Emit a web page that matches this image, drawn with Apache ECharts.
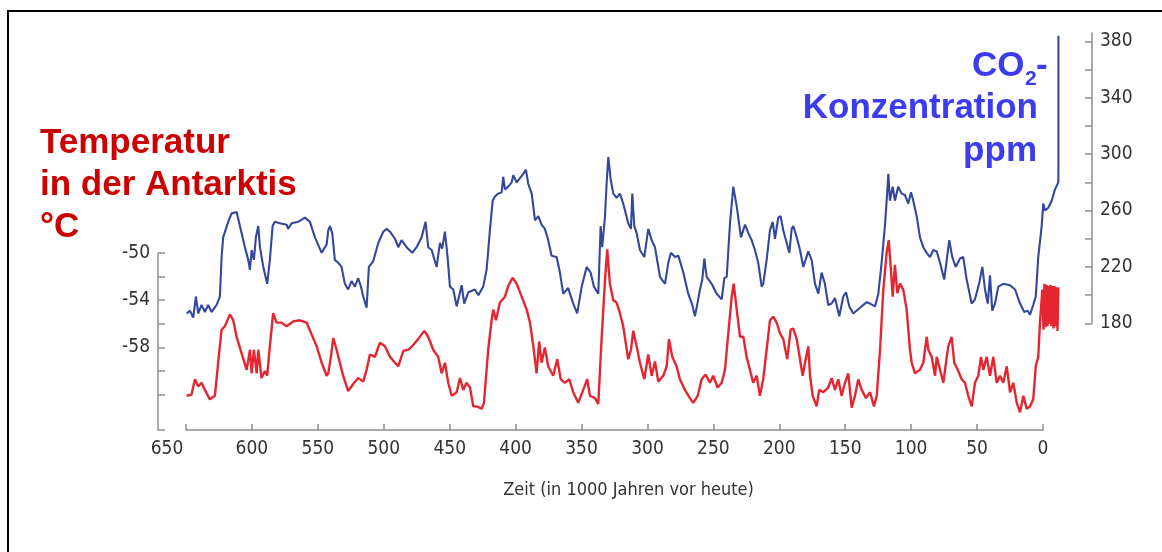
<!DOCTYPE html>
<html>
<head>
<meta charset="utf-8">
<title>Temperatur und CO2-Konzentration in der Antarktis</title>
<style>
  html, body { margin: 0; padding: 0; background: #ffffff; }
  #chart { width: 1162px; height: 552px; }
</style>
<script src="https://cdn.jsdelivr.net/npm/echarts@6/dist/echarts.min.js"></script>
</head>
<body>
<div id="chart"></div>
<script>
// CO2 record: age in thousand years before present, concentration in ppm
const co2Age = [
  649.5, 647.0, 644.5, 642.5, 640.7, 638.2, 635.7, 633.2, 630.6, 626.8,
  624.3, 623.0, 621.8, 618.0, 615.4, 611.6, 609.1, 605.3, 602.8, 601.5,
  600.2, 598.5, 597.0, 595.2, 593.9, 591.4, 588.4, 586.4, 584.3, 582.6,
  578.8, 573.7, 572.5, 569.9, 564.9, 559.8, 556.0, 552.2, 547.1, 543.3,
  542.1, 540.8, 539.1, 537.1, 534.6, 532.0, 529.5, 527.0, 524.4, 521.9,
  519.4, 517.3, 515.6, 513.0, 511.3, 508.0, 504.2, 500.4, 497.8, 495.3,
  491.5, 489.0, 486.5, 482.7, 478.4, 475.1, 471.3, 468.3, 466.3, 463.7,
  459.9, 457.4, 455.7, 453.6, 451.6, 449.8, 447.3, 444.7, 440.9, 439.0,
  435.9, 430.9, 428.3, 424.6, 422.0, 419.5, 417.4, 415.7, 413.2, 410.6,
  409.4, 408.1, 405.6, 403.0, 401.8, 399.2, 396.7, 394.2, 392.2, 390.4,
  387.8, 385.3, 382.8, 380.3, 377.8, 375.3, 372.7, 368.9, 366.4, 363.9,
  360.1, 356.3, 353.3, 349.9, 346.1, 343.1, 340.6, 337.3, 335.5, 334.3,
  332.2, 331.0, 329.7, 327.9, 325.9, 323.4, 320.9, 318.4, 314.6, 312.5,
  311.5, 310.0, 308.2, 305.7, 302.4, 300.6, 299.4, 296.8, 294.3, 290.5,
  286.7, 284.2, 282.2, 279.1, 276.6, 272.8, 269.1, 266.0, 264.0, 261.9,
  260.2, 258.4, 256.9, 255.1, 251.3, 247.5, 243.7, 241.7, 239.9, 237.4,
  234.9, 232.3, 229.1, 226.0, 223.5, 221.0, 218.5, 216.0, 213.4, 212.2,
  209.6, 207.1, 205.0, 203.3, 200.8, 199.0, 197.0, 194.4, 192.4, 190.6,
  189.4, 186.8, 184.3, 181.8, 178.0, 175.5, 172.9, 170.4, 167.9, 165.4,
  162.9, 160.3, 157.8, 154.5, 151.5, 149.4, 146.9, 143.9, 138.8, 133.7,
  131.2, 127.4, 124.9, 122.4, 119.9, 118.6, 117.3, 116.1, 114.0, 112.3,
  109.8, 107.2, 104.7, 102.2, 100.1, 98.4, 95.8, 93.3, 90.8, 88.2,
  85.7, 83.2, 80.6, 78.1, 74.9, 73.0, 71.1, 68.8, 66.2, 63.0,
  60.5, 57.9, 54.1, 51.6, 48.5, 46.0, 44.0, 41.9, 40.2, 38.5,
  36.4, 33.9, 30.1, 25.0, 21.2, 17.4, 14.2, 11.6, 9.9, 7.4,
  5.5, 3.6, 1.0, -0.2, -1.5, -4.0, -6.6, -9.1, -11.6, -11.7,
  -11.7
];
const co2Ppm = [
  187, 189, 184, 199, 187, 193, 188, 193, 188, 193,
  199, 227, 241, 252, 258, 259, 249, 234, 225, 218,
  232, 225, 241, 249, 234, 220, 208, 225, 249, 252,
  251, 250, 247, 251, 252, 255, 252, 241, 230, 236,
  246, 249, 244, 225, 223, 220, 208, 204, 210, 206,
  212, 206, 199, 191, 220, 224, 237, 245, 247, 245,
  240, 234, 239, 234, 230, 234, 241, 252, 234, 232,
  220, 237, 233, 245, 227, 206, 204, 192, 207, 194,
  202, 204, 200, 206, 218, 246, 267, 270, 272, 273,
  284, 275, 277, 280, 285, 280, 283, 286, 289, 279,
  272, 253, 256, 250, 247, 239, 228, 227, 216, 201,
  205, 194, 187, 206, 220, 216, 206, 201, 249, 234,
  256, 279, 298, 282, 272, 269, 272, 265, 251, 247,
  272, 249, 244, 232, 227, 239, 247, 239, 234, 213,
  208, 223, 230, 227, 228, 216, 201, 193, 185, 195,
  204, 211, 226, 213, 208, 201, 197, 212, 213, 251,
  277, 263, 241, 250, 244, 239, 232, 223, 206, 208,
  225, 246, 252, 240, 255, 256, 246, 237, 230, 247,
  249, 241, 232, 220, 231, 225, 208, 201, 216, 208,
  193, 194, 198, 185, 199, 202, 192, 187, 191, 195,
  194, 192, 201, 223, 249, 267, 286, 267, 277, 267,
  277, 272, 271, 265, 273, 267, 256, 241, 234, 230,
  227, 232, 231, 223, 211, 225, 239, 227, 220, 226,
  227, 211, 194, 197, 208, 220, 204, 194, 214, 189,
  194, 206, 208, 207, 204, 194, 188, 189, 186, 193,
  199, 227, 249, 265, 260, 262, 267, 275, 280, 291,
  384
];

// Antarctic temperature record: age in thousand years before present, degrees Celsius
const tempAge = [
  649.5, 645.8, 643.2, 640.7, 638.2, 635.7, 631.9, 628.1, 625.6, 623.0,
  620.5, 616.7, 614.2, 611.6, 607.8, 604.0, 601.5, 600.2, 598.5, 596.4,
  595.2, 592.7, 590.2, 588.4, 586.4, 583.9, 581.3, 577.5, 573.7, 568.7,
  563.6, 558.5, 554.7, 550.9, 547.1, 543.3, 542.1, 540.1, 538.3, 535.8,
  533.3, 530.8, 527.0, 523.2, 519.4, 515.6, 513.0, 510.5, 506.7, 502.9,
  499.1, 495.3, 491.5, 489.0, 485.2, 481.4, 477.7, 473.9, 469.3, 466.3,
  462.5, 458.7, 456.1, 453.6, 451.1, 448.5, 444.7, 442.2, 439.7, 437.2,
  434.6, 432.1, 429.6, 425.8, 424.0, 420.8, 418.2, 417.0, 414.9, 411.9,
  408.1, 405.6, 402.3, 399.2, 395.4, 391.6, 389.1, 386.6, 384.1, 382.1,
  380.3, 377.8, 375.3, 371.5, 368.4, 365.8, 362.6, 359.3, 356.3, 352.5,
  348.7, 345.7, 343.6, 339.8, 337.3, 334.7, 332.2, 330.5, 328.5, 325.9,
  323.4, 320.9, 318.4, 314.6, 312.5, 310.8, 308.2, 305.7, 302.4, 299.4,
  296.8, 294.3, 291.8, 288.0, 285.4, 283.7, 281.2, 277.9, 275.4, 271.6,
  267.8, 265.3, 261.9, 258.9, 255.9, 252.6, 250.1, 246.8, 243.7, 241.2,
  238.7, 236.1, 234.6, 232.3, 229.8, 227.3, 224.8, 222.3, 219.8, 217.2,
  214.7, 212.2, 209.6, 207.1, 204.6, 202.0, 199.5, 197.0, 194.0, 191.4,
  189.4, 186.8, 184.3, 182.3, 180.5, 178.0, 176.7, 174.7, 171.7, 169.7,
  166.7, 162.9, 160.3, 157.8, 155.3, 152.7, 150.2, 147.7, 145.1, 142.6,
  140.1, 137.5, 134.3, 131.2, 128.2, 126.1, 123.6, 121.1, 118.6, 117.0,
  115.5, 114.0, 112.3, 110.5, 108.5, 106.0, 103.4, 100.9, 99.6, 97.1,
  93.3, 90.8, 88.2, 87.0, 84.4, 81.9, 80.6, 78.1, 75.6, 73.0,
  71.8, 69.3, 67.3, 64.7, 61.7, 59.2, 56.7, 54.1, 51.6, 49.1,
  47.0, 45.3, 42.7, 40.2, 37.7, 35.1, 32.6, 30.1, 27.5, 25.0,
  22.5, 19.9, 17.4, 14.9, 12.4, 9.9, 7.4, 5.5, 3.6, 2.3,
  0.5, -0.4, -1.1, -1.9, -2.7, -3.4, -4.2, -4.9, -5.7, -6.4,
  -7.2, -8.0, -8.7, -9.5, -10.2, -11.0, -11.6
];
const tempC = [
  -62.1, -62.0, -60.7, -61.3, -61.0, -61.6, -62.4, -62.1, -59.3, -56.5,
  -56.2, -55.2, -55.7, -57.1, -58.5, -59.9, -58.2, -60.2, -58.2, -60.2,
  -58.2, -60.6, -60.0, -60.4, -57.9, -55.1, -55.9, -55.9, -56.2, -55.8,
  -55.7, -55.9, -56.9, -57.9, -59.3, -60.4, -60.2, -58.8, -57.2, -58.2,
  -59.3, -60.4, -61.7, -61.1, -60.6, -60.9, -59.9, -58.6, -58.8, -57.6,
  -57.9, -58.8, -59.3, -59.6, -58.3, -58.2, -57.8, -57.3, -56.6, -57.1,
  -58.2, -58.8, -60.2, -59.3, -61.0, -62.1, -61.8, -60.6, -61.6, -61.0,
  -61.4, -63.0, -63.0, -63.2, -62.7, -58.2, -55.7, -54.8, -55.7, -54.2,
  -53.7, -52.8, -52.1, -52.6, -53.7, -54.8, -55.9, -57.9, -60.2, -57.5,
  -59.3, -58.0, -59.6, -60.4, -59.0, -60.7, -61.0, -60.7, -61.8, -62.7,
  -61.6, -60.7, -62.1, -62.3, -62.8, -57.1, -52.3, -49.7, -52.6, -54.0,
  -54.2, -55.1, -56.2, -59.0, -58.2, -56.6, -57.9, -59.3, -60.7, -58.6,
  -60.4, -59.2, -60.9, -60.4, -59.6, -57.3, -58.8, -59.6, -60.7, -61.6,
  -62.3, -62.7, -62.1, -60.7, -60.3, -61.0, -60.4, -61.4, -61.0, -59.9,
  -56.8, -53.7, -52.6, -54.8, -57.1, -57.1, -58.8, -59.9, -61.0, -60.4,
  -62.1, -60.7, -58.2, -55.7, -55.4, -55.9, -56.8, -57.3, -59.0, -56.5,
  -56.4, -57.3, -59.0, -60.4, -59.3, -57.9, -60.4, -62.1, -63.0, -61.6,
  -61.8, -61.4, -60.6, -61.6, -60.7, -62.1, -61.0, -60.2, -63.1, -62.1,
  -60.7, -61.6, -62.3, -61.8, -63.0, -62.1, -58.2, -53.1, -50.0, -48.9,
  -51.2, -53.7, -51.0, -53.4, -52.6, -53.1, -54.8, -58.2, -59.3, -60.2,
  -59.9, -59.3, -57.1, -58.2, -58.8, -60.4, -58.8, -59.9, -61.0, -58.8,
  -57.9, -57.1, -59.3, -59.9, -60.7, -61.0, -62.1, -63.0, -61.0, -60.4,
  -58.8, -59.9, -58.8, -60.4, -58.8, -61.0, -60.4, -61.0, -59.6, -61.8,
  -61.0, -62.7, -63.5, -62.1, -63.2, -63.0, -62.4, -59.6, -58.8, -55.9,
  -53.1, -56.5, -52.6, -56.3, -52.7, -56.2, -52.8, -56.0, -52.7, -56.2,
  -52.8, -56.4, -52.8, -56.2, -52.9, -56.6, -52.9
];

// Axis ticks and labels
const tempTickValues = [-50, -52, -54, -56, -58, -60, -62, -65];
const tempLabelValues = [-50, -54, -58];
const co2TickValues = [180, 200, 220, 240, 260, 280, 300, 320, 340, 360, 380];
const co2LabelValues = [180, 220, 260, 300, 340, 380];

const axisFont = "'Liberation Sans Narrow', 'DejaVu Sans Condensed', 'Liberation Sans', sans-serif";
const titleFont = "'Liberation Sans', Arial, sans-serif";
const axisColor = '#8f8f8f';
const labelColor = '#333333';

const pairs = (xs, ys) => xs.map((x, i) => [x, ys[i]]);

const chart = echarts.init(document.getElementById('chart'), null, { renderer: 'canvas' });

const titleRed = '#cc0000';
const titleBlue = '#3c3cee';
const titleStyle = (size) => 'bold ' + size + 'px ' + titleFont;

// The records run a little past "0" (the recent rise); the data grids
// therefore reach 12 ka further right than the labelled time axis.
const plotLeft = 186;
const pxPerKa = 857 / 650;
const dataRight = 1162 - plotLeft - 662 * pxPerKa;

chart.setOption({
  animation: false,
  backgroundColor: '#ffffff',
  grid: [
    { left: plotLeft, right: 119, top: 253, height: 177 },
    { left: plotLeft, right: dataRight, top: 253, height: 177 },
    { left: plotLeft, right: dataRight, top: 33, height: 290.3 }
  ],
  xAxis: [
    {
      gridIndex: 0,
      type: 'value',
      min: 0,
      max: 650,
      interval: 50,
      inverse: true,
      axisLine: { show: true, onZero: false, lineStyle: { color: axisColor, width: 1.5 } },
      axisTick: { show: true, inside: true, length: 6, lineStyle: { color: axisColor, width: 1.5 } },
      splitLine: { show: false },
      axisLabel: {
        color: labelColor,
        fontFamily: axisFont,
        fontSize: 19,
        margin: 10,
        showMinLabel: true,
        showMaxLabel: true,
        formatter: v => (v === 650 ? '{far|650}' : String(v)),
        rich: {
          far: { color: labelColor, fontFamily: axisFont, fontSize: 19, padding: [0, 38, 0, 0] }
        }
      },
      name: 'Zeit (in 1000 Jahren vor heute)',
      nameLocation: 'middle',
      nameGap: 51,
      nameTextStyle: {
        color: labelColor,
        fontFamily: axisFont,
        fontSize: 18,
        padding: [0, 0, 0, 28]
      }
    },
    { gridIndex: 1, type: 'value', min: -12, max: 650, inverse: true, show: false },
    { gridIndex: 2, type: 'value', min: -12, max: 650, inverse: true, show: false }
  ],
  yAxis: [
    {
      gridIndex: 0,
      type: 'value',
      min: -65,
      max: -50,
      position: 'left',
      offset: 28,
      axisLine: { show: true, onZero: false, lineStyle: { color: axisColor, width: 1.5 } },
      axisTick: {
        show: true, inside: true, length: 7,
        customValues: tempTickValues,
        lineStyle: { color: axisColor, width: 1.5 }
      },
      splitLine: { show: false },
      axisLabel: {
        customValues: tempLabelValues,
        color: labelColor,
        fontFamily: axisFont,
        fontSize: 19,
        margin: 8
      }
    },
    { gridIndex: 1, type: 'value', min: -65, max: -50, show: false },
    {
      gridIndex: 2,
      type: 'value',
      min: 180,
      max: 386,
      position: 'right',
      offset: 1092 - (1162 - dataRight),
      axisLine: { show: true, onZero: false, lineStyle: { color: axisColor, width: 1.5 } },
      axisTick: {
        show: true, inside: true, length: 7,
        customValues: co2TickValues,
        lineStyle: { color: axisColor, width: 1.5 }
      },
      splitLine: { show: false },
      axisLabel: {
        customValues: co2LabelValues,
        color: labelColor,
        fontFamily: axisFont,
        fontSize: 19,
        margin: 8
      }
    }
  ],
  series: [
    {
      name: 'Temperatur',
      type: 'line',
      xAxisIndex: 1,
      yAxisIndex: 1,
      data: pairs(tempAge, tempC),
      showSymbol: false,
      clip: false,
      lineStyle: { color: '#e52631', width: 2.4 }
    },
    {
      name: 'CO2',
      type: 'line',
      xAxisIndex: 2,
      yAxisIndex: 2,
      data: pairs(co2Age, co2Ppm),
      showSymbol: false,
      clip: false,
      lineStyle: { color: '#34479c', width: 2.1 }
    }
  ],
  graphic: [
    {
      type: 'rect',
      shape: { x: 8, y: 11, width: 1200, height: 600 },
      style: { fill: null, stroke: '#000000', lineWidth: 2 },
      z: -1
    },
    { type: 'text', x: 40, y: 143, style: { text: 'Temperatur', fill: titleRed, font: titleStyle(35), textAlign: 'left', textVerticalAlign: 'middle' } },
    { type: 'text', x: 40, y: 185, style: { text: 'in der Antarktis', fill: titleRed, font: titleStyle(35), textAlign: 'left', textVerticalAlign: 'middle' } },
    { type: 'text', x: 40, y: 227, style: { text: '°C', fill: titleRed, font: titleStyle(35), textAlign: 'left', textVerticalAlign: 'middle' } },
    { type: 'text', x: 972, y: 66, style: { text: 'CO', fill: titleBlue, font: titleStyle(35), textAlign: 'left', textVerticalAlign: 'middle' } },
    { type: 'text', x: 1025, y: 79, style: { text: '2', fill: titleBlue, font: titleStyle(21), textAlign: 'left', textVerticalAlign: 'middle' } },
    { type: 'text', x: 1036, y: 66, style: { text: '-', fill: titleBlue, font: titleStyle(35), textAlign: 'left', textVerticalAlign: 'middle' } },
    { type: 'text', x: 1038, y: 108, style: { text: 'Konzentration', fill: titleBlue, font: titleStyle(35), textAlign: 'right', textVerticalAlign: 'middle' } },
    { type: 'text', x: 1037, y: 151, style: { text: 'ppm', fill: titleBlue, font: titleStyle(35), textAlign: 'right', textVerticalAlign: 'middle' } }
  ]
});
</script>
</body>
</html>
